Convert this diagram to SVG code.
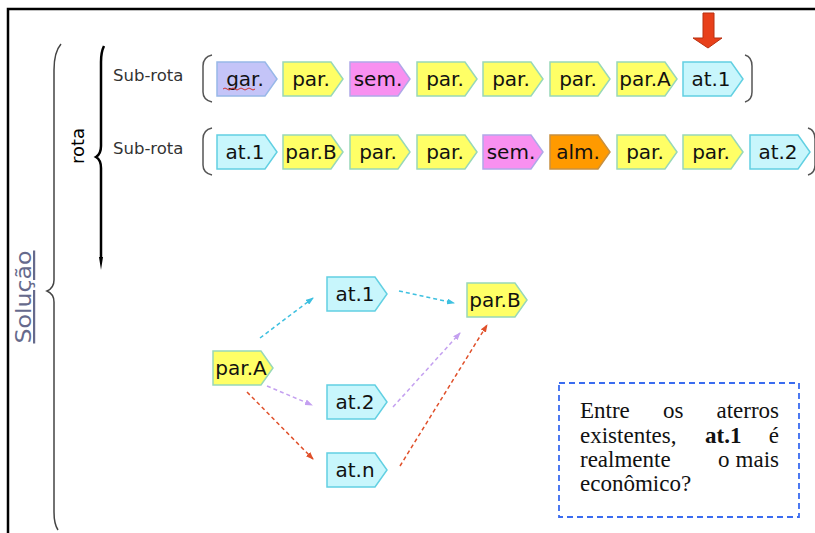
<svg xmlns="http://www.w3.org/2000/svg" xmlns:xlink="http://www.w3.org/1999/xlink" width="815" height="533" viewBox="0 0 815 533">
<style>
  .tagtxt { font-family: "DejaVu Sans", Verdana, sans-serif; font-size: 20px; fill: #111; text-anchor: middle; }
  .y { fill: #ffff66; stroke: #98d8b8; stroke-width: 1.5; }
  .c { fill: #c8f6fc; stroke: #62d0e2; stroke-width: 1.5; }
  .p { fill: #c4c4f8; stroke: #98b8e8; stroke-width: 1.5; }
  .m { fill: #f890f0; stroke: #b0a8e8; stroke-width: 1.5; }
  .o { fill: #ff9a00; stroke: #c89040; stroke-width: 1.5; }
  .lbl { font-family: "DejaVu Sans", Verdana, sans-serif; font-size: 16.5px; fill: #333; }
  .br { fill: none; stroke: #555; stroke-width: 1.5; }
  .con { fill: none; stroke-width: 1.5; stroke-dasharray: 4 3; }
  .note { font-family: "Liberation Serif", "Times New Roman", serif; font-size: 23px; fill: #111; }
</style>
<defs>
  <path id="tag" d="M0,0 H48 L60,17 L48,34 H0 Z"/>
  <marker id="mc" markerWidth="8" markerHeight="6" refX="7" refY="3" orient="auto" markerUnits="userSpaceOnUse"><path d="M0,0 L8,3 L0,6 Z" fill="#3ec0e0"/></marker>
  <marker id="mp" markerWidth="8" markerHeight="6" refX="7" refY="3" orient="auto" markerUnits="userSpaceOnUse"><path d="M0,0 L8,3 L0,6 Z" fill="#c4a0f0"/></marker>
  <marker id="mr" markerWidth="8" markerHeight="6" refX="7" refY="3" orient="auto" markerUnits="userSpaceOnUse"><path d="M0,0 L8,3 L0,6 Z" fill="#e0502a"/></marker>
</defs>
<rect width="815" height="533" fill="#ffffff"/>
<path d="M8,533 V9 H815" fill="none" stroke="#000" stroke-width="2.5"/>

<g id="solucao">
  <text transform="translate(31,297) rotate(-90)" font-family="DejaVu Sans, Verdana, sans-serif" font-size="22" fill="#666a8c" text-anchor="middle" text-decoration="underline" textLength="93" lengthAdjust="spacingAndGlyphs">Solução</text>
  <path d="M61,44 Q54,52 54,70 V280 Q54,288 47,291 Q54,294 54,302 V512 Q54,524 58,530" fill="none" stroke="#444" stroke-width="1.5"/>
</g>
<g id="rota">
  <text transform="translate(84,146) rotate(-90)" font-family="DejaVu Sans, Verdana, sans-serif" font-size="18" fill="#000" text-anchor="middle">rota</text>
  <path d="M104,46 Q101,52 101,62 V146 Q101,154 96,157 Q101,160 101,168 V258" fill="none" stroke="#000" stroke-width="2.5"/>
  <path d="M99,257 L103,257 L101,270 Z" fill="#000"/>
</g>

<g id="subrota1">
  <text class="lbl" x="113" y="81">Sub-rota</text>
  <path class="br" d="M212,55 Q203,57 203,66 V92 Q203,100 212,102"/>
  <path class="br" d="M745,55 Q752,57 752,66 V92 Q752,100 745,102"/>
</g>
<g id="subrota2">
  <text class="lbl" x="113" y="154">Sub-rota</text>
  <path class="br" d="M212,128 Q203,130 203,139 V165 Q203,173 212,175"/>
  <path class="br" d="M808,128 Q815,130 815,139 V165 Q815,173 808,175"/>
</g>

<g id="r1n1"><use href="#tag" x="217" y="62" class="p"/><text class="tagtxt" x="245" y="86">gar.</text><path d="M223,89 q2,-2 4,0 t4,0 t4,0 t4,0 t4,0 t4,0 t4,0 t4,0" fill="none" stroke="#d03030" stroke-width="1"/></g>
<g id="r1n2"><use href="#tag" x="283" y="62" class="y"/><text class="tagtxt" x="311" y="86">par.</text></g>
<g id="r1n3"><use href="#tag" x="350" y="62" class="m"/><text class="tagtxt" x="378" y="86">sem.</text></g>
<g id="r1n4"><use href="#tag" x="417" y="62" class="y"/><text class="tagtxt" x="445" y="86">par.</text></g>
<g id="r1n5"><use href="#tag" x="483" y="62" class="y"/><text class="tagtxt" x="511" y="86">par.</text></g>
<g id="r1n6"><use href="#tag" x="550" y="62" class="y"/><text class="tagtxt" x="578" y="86">par.</text></g>
<g id="r1n7"><use href="#tag" x="617" y="62" class="y"/><text class="tagtxt" x="645" y="86">par.A</text></g>
<g id="r1n8"><use href="#tag" x="683" y="62" class="c"/><text class="tagtxt" x="711" y="86">at.1</text></g>

<g id="pointer"><path d="M703,13 H714 V38 H722 L708,48 L693,38 H703 Z" fill="#e8401a" stroke="#b83010" stroke-width="1"/></g>

<g id="r2n1"><use href="#tag" x="217" y="135" class="c"/><text class="tagtxt" x="245" y="159">at.1</text></g>
<g id="r2n2"><use href="#tag" x="283" y="135" class="y"/><text class="tagtxt" x="311" y="159">par.B</text></g>
<g id="r2n3"><use href="#tag" x="350" y="135" class="y"/><text class="tagtxt" x="378" y="159">par.</text></g>
<g id="r2n4"><use href="#tag" x="417" y="135" class="y"/><text class="tagtxt" x="445" y="159">par.</text></g>
<g id="r2n5"><use href="#tag" x="483" y="135" class="m"/><text class="tagtxt" x="511" y="159">sem.</text></g>
<g id="r2n6"><use href="#tag" x="550" y="135" class="o"/><text class="tagtxt" x="578" y="159">alm.</text></g>
<g id="r2n7"><use href="#tag" x="617" y="135" class="y"/><text class="tagtxt" x="645" y="159">par.</text></g>
<g id="r2n8"><use href="#tag" x="683" y="135" class="y"/><text class="tagtxt" x="711" y="159">par.</text></g>
<g id="r2n9"><use href="#tag" x="750" y="135" class="c"/><text class="tagtxt" x="778" y="159">at.2</text></g>

<g id="connectors">
  <line class="con" x1="260" y1="338" x2="313" y2="298" stroke="#3ec0e0" marker-end="url(#mc)"/>
  <line class="con" x1="399" y1="291" x2="454" y2="303" stroke="#3ec0e0" marker-end="url(#mc)"/>
  <line class="con" x1="267" y1="386" x2="312" y2="405" stroke="#c4a0f0" marker-end="url(#mp)"/>
  <line class="con" x1="393" y1="407" x2="460" y2="333" stroke="#c4a0f0" marker-end="url(#mp)"/>
  <line class="con" x1="247" y1="392" x2="313" y2="459" stroke="#e0502a" marker-end="url(#mr)"/>
  <line class="con" x1="400" y1="466" x2="487" y2="325" stroke="#e0502a" marker-end="url(#mr)"/>
</g>

<g id="at1"><use href="#tag" x="327" y="277" class="c"/><text class="tagtxt" x="355" y="301">at.1</text></g>
<g id="parB"><use href="#tag" x="467" y="283" class="y"/><text class="tagtxt" x="495" y="307">par.B</text></g>
<g id="parA"><use href="#tag" x="213" y="351" class="y"/><text class="tagtxt" x="241" y="375">par.A</text></g>
<g id="at2"><use href="#tag" x="327" y="385" class="c"/><text class="tagtxt" x="355" y="409">at.2</text></g>
<g id="atn"><use href="#tag" x="327" y="453" class="c"/><text class="tagtxt" x="355" y="477">at.n</text></g>

<g id="note">
  <rect x="559" y="383" width="240" height="134" fill="none" stroke="#3a6cf0" stroke-width="1.8" stroke-dasharray="6 4"/>
  <text class="note" x="580" y="418">Entre</text>
  <text class="note" x="663" y="418">os</text>
  <text class="note" x="779" y="418" text-anchor="end">aterros</text>
  <text class="note" x="580" y="443">existentes,</text>
  <text class="note" x="705" y="443" font-weight="bold">at.1</text>
  <text class="note" x="779" y="443" text-anchor="end">é</text>
  <text class="note" x="580" y="467">realmente</text>
  <text class="note" x="718" y="467">o</text>
  <text class="note" x="779" y="467" text-anchor="end">mais</text>
  <text class="note" x="580" y="491">econômico?</text>
</g>
</svg>
